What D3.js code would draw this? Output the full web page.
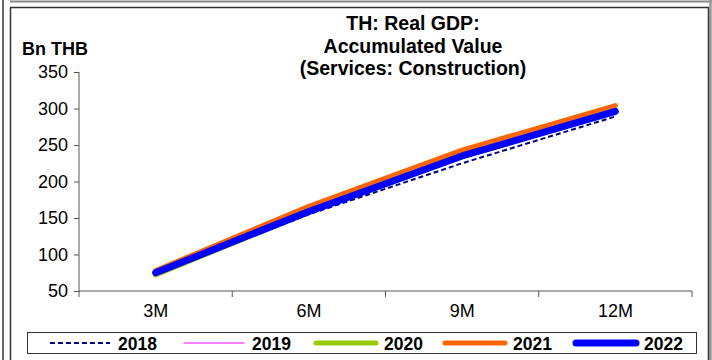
<!DOCTYPE html>
<html><head><meta charset="utf-8">
<script src="https://cdn.jsdelivr.net/npm/d3@7"></script>
<style>body{margin:0;background:#fff}svg{display:block}text{font-family:Arial,"Liberation Sans",sans-serif}</style>
</head><body><svg id="c" width="712" height="360"></svg>
<script>
const categories = ["3M","6M","9M","12M"];
const years = ["2018","2019","2020","2021","2022"];
const s2018 = [73, 155, 225, 289];
const s2019 = [74, 158, 236, 296];
const s2020 = [72, 158, 238, 297];
const s2021 = [78, 166, 243, 304];
const s2022 = [75, 159, 235, 296];
const yTicks = [50,100,150,200,250,300,350];
const seriesValues = [s2018, s2019, s2020, s2021, s2022];
const styles = [
  {color:"#000080", width:2, dash:"5,3"},
  {color:"#FF00FF", width:1.2, dash:null},
  {color:"#99CC00", width:5, dash:null},
  {color:"#FF6600", width:5, dash:null},
  {color:"#0000FF", width:7, dash:null}
];

const svg = d3.select("#c");
// outer frames
svg.append("line").attr("x1",10).attr("x2",712).attr("y1",1.5).attr("y2",1.5).attr("stroke","#888").attr("stroke-width",2);
svg.append("line").attr("x1",3).attr("x2",3).attr("y1",0).attr("y2",360).attr("stroke","#333").attr("stroke-width",1.5);
svg.append("line").attr("x1",710.5).attr("x2",710.5).attr("y1",0).attr("y2",360).attr("stroke","#999").attr("stroke-width",2.5);
svg.append("rect").attr("x",10.5).attr("y",7.5).attr("width",698).attr("height",360).attr("fill","none").attr("stroke","#333").attr("stroke-width",1.5);

const x = d3.scaleBand().domain(categories).range([79,692]).padding(0);
const y = d3.scaleLinear().domain([50,350]).range([291,72]);

// y axis
const ya = svg.append("g").attr("transform","translate(79,0)")
  .call(d3.axisLeft(y).tickValues(yTicks).tickSize(5).tickPadding(6));
ya.select(".domain").attr("stroke","#555").attr("d","M0,72V291");
ya.selectAll(".tick line").attr("stroke","#555");
ya.selectAll("text").attr("font-size",18).attr("fill","#000").style("font-family","Arial, 'Liberation Sans', sans-serif");

// x axis
const xa = svg.append("g").attr("transform","translate(0,291)")
  .call(d3.axisBottom(x).tickSize(0).tickPadding(13));
xa.select(".domain").attr("stroke","#555").attr("d","M79,0H692");
xa.selectAll("text").attr("font-size",18).attr("fill","#000").style("font-family","Arial, 'Liberation Sans', sans-serif");
const bounds = [...categories.map(c=>x(c)), x.range()[1]];
svg.append("g").selectAll("line").data(bounds).join("line")
  .attr("x1",d=>d).attr("x2",d=>d).attr("y1",291).attr("y2",297).attr("stroke","#555");

// lines
const line = d3.line().x((d,i)=>x(categories[i])+x.bandwidth()/2).y(d=>y(d));
seriesValues.forEach((vals,k)=>{
  const st = styles[k];
  svg.append("path").datum(vals).attr("d",line).attr("fill","none")
    .attr("stroke",st.color).attr("stroke-width",st.width)
    .attr("stroke-linecap", st.dash? "butt":"round").attr("stroke-linejoin","round")
    .attr("stroke-dasharray", st.dash);
});

// title
const title = ["TH: Real GDP:","Accumulated Value","(Services: Construction)"];
svg.append("g").selectAll("text").data(title).join("text")
  .attr("x",413).attr("y",(d,i)=>30+i*22.5).attr("text-anchor","middle")
  .attr("font-size",19.5).attr("font-weight","bold").text(d=>d);
svg.append("text").attr("x",22).attr("y",55).attr("font-size",18).attr("font-weight","bold").text("Bn THB");

// legend
svg.append("rect").attr("x",27.5).attr("y",332.5).attr("width",669).attr("height",21).attr("fill","none").attr("stroke","#333").attr("stroke-width",1);
const legX = [50,184,316,445,576];
const lg = svg.append("g").selectAll("g").data(years).join("g");
lg.append("line").attr("x1",(d,i)=>legX[i]).attr("x2",(d,i)=>legX[i]+60).attr("y1",343).attr("y2",343)
  .attr("stroke",(d,i)=>styles[i].color).attr("stroke-width",(d,i)=>styles[i].width)
  .attr("stroke-dasharray",(d,i)=>styles[i].dash).attr("stroke-linecap",(d,i)=>styles[i].dash?"butt":"round");
lg.append("text").attr("x",(d,i)=>legX[i]+68).attr("y",349.5).attr("font-size",17.5).attr("font-weight","bold").text(d=>d);
</script></body></html>
